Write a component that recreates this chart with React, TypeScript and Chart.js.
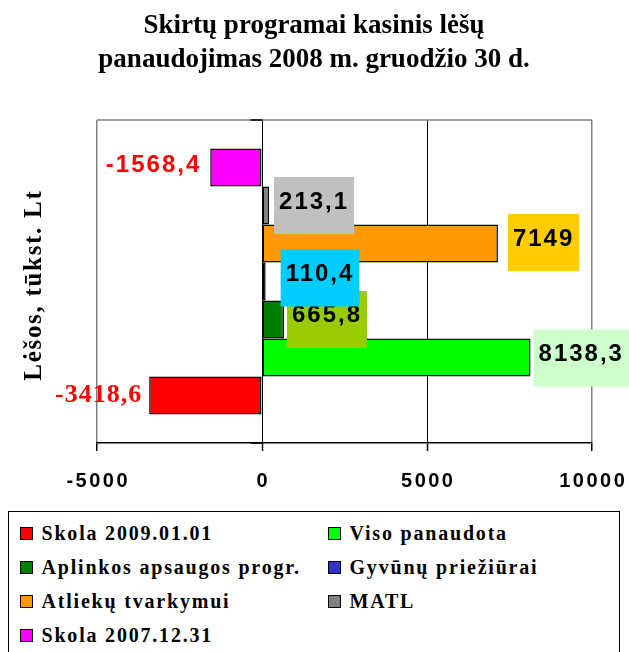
import React, { useEffect, useRef } from "react";
import { Chart, registerables } from "chart.js";

Chart.register(...registerables);

// ---- data ----
const titleLines = ["Skirtų programai kasinis lėšų", "panaudojimas 2008 m. gruodžio 30 d."];
const yAxisTitle = "Lėšos, tūkst. Lt";
const categories = [""];
const seriesNames = [
  "Skola 2009.01.01",
  "Viso panaudota",
  "Aplinkos apsaugos progr.",
  "Gyvūnų priežiūrai",
  "Atliekų tvarkymui",
  "MATL",
  "Skola 2007.12.31",
];
const seriesValues = [-3418.6, 8138.3, 665.8, 110.4, 7149, 213.1, -1568.4];
const seriesColors = ["#FF0000", "#00FF00", "#008000", "#3333CC", "#FF9900", "#808080", "#FF00FF"];
const xTickValues = [-5000, 0, 5000, 10000];

// ---- label styles (per series, same order) ----
const SANS24 = "bold 24px 'Liberation Sans', Arial, sans-serif";
const labelStyles = [
  { bg: null, color: "#FF0000", font: "bold 26px 'Liberation Serif', 'Times New Roman', serif", spacing: 1, dx: -8, dy: 4 },
  { bg: "#CCFFCC", color: "#000000", font: SANS24, spacing: 2, dx: 3, dy: 0.5 },
  { bg: "#99CC00", color: "#000000", font: SANS24, spacing: 2, dx: 3, dy: 0 },
  { bg: "#00CCFF", color: "#000000", font: SANS24, spacing: 2, dx: 15, dy: -3.5 },
  { bg: "#FFCC00", color: "#000000", font: SANS24, spacing: 2, dx: 10, dy: -1 },
  { bg: "#C0C0C0", color: "#000000", font: SANS24, spacing: 2, dx: 5, dy: 0 },
  { bg: null, color: "#FF0000", font: SANS24, spacing: 2, dx: -11, dy: 1 },
];

const fmt = (v: number) => String(v).replace(".", ",");

const decorPlugin = {
  id: "decor",
  beforeDatasetsDraw(chart: any) {
    const { ctx, chartArea } = chart;
    const x = chart.scales.x;
    ctx.save();
    // top plot border
    ctx.strokeStyle = "#808080";
    ctx.lineWidth = 1.5;
    ctx.beginPath();
    ctx.moveTo(chartArea.left, chartArea.top);
    ctx.lineTo(chartArea.right, chartArea.top);
    ctx.stroke();
    // small category-axis ticks at zero
    const x0 = Math.round(x.getPixelForValue(0)) + 0.5;
    ctx.strokeStyle = "#000";
    ctx.lineWidth = 1.5;
    ctx.beginPath();
    ctx.moveTo(x0 - 12, chartArea.top);
    ctx.lineTo(x0, chartArea.top);
    ctx.moveTo(x0 - 12, chartArea.bottom);
    ctx.lineTo(x0, chartArea.bottom);
    ctx.stroke();
    ctx.restore();
  },
  afterDatasetsDraw(chart: any) {
    const { ctx } = chart;
    const n = seriesValues.length;
    for (let i = 0; i < n; i++) {
      const dsIndex = n - 1 - i;
      const meta = chart.getDatasetMeta(dsIndex);
      const el = meta.data[0];
      if (!el) continue;
      const st = labelStyles[i];
      const v = seriesValues[i];
      const text = fmt(v);
      ctx.save();
      ctx.font = st.font;
      (ctx as any).letterSpacing = st.spacing + "px";
      const w = ctx.measureText(text).width;
      const cy = el.y + st.dy;
      ctx.textBaseline = "alphabetic";
      if (v >= 0) {
        const left = el.x + st.dx;
        if (st.bg) {
          ctx.fillStyle = st.bg;
          ctx.fillRect(left, cy - 28.5, w + 10, 57);
        }
        ctx.fillStyle = st.color;
        ctx.textAlign = "left";
        ctx.fillText(text, left + 5, cy + 3);
      } else {
        const right = el.x + st.dx; // el.x is left end for negative bar
        ctx.fillStyle = st.color;
        ctx.textAlign = "left";
        ctx.fillText(text, right - w + st.spacing, cy + 3);
      }
      ctx.restore();
    }
  },
  afterDraw(chart: any) {
    const { ctx, chartArea } = chart;
    const x = chart.scales.x;
    ctx.save();
    // title
    ctx.fillStyle = "#000";
    ctx.font = "bold 27px 'Liberation Serif', 'Times New Roman', serif";
    ctx.textAlign = "center";
    ctx.textBaseline = "alphabetic";
    ctx.fillText(titleLines[0], 314, 33);
    ctx.fillText(titleLines[1], 314, 67);
    // y axis title
    ctx.save();
    ctx.translate(41, 286);
    ctx.rotate(-Math.PI / 2);
    ctx.font = "bold 25px 'Liberation Serif', 'Times New Roman', serif";
    (ctx as any).letterSpacing = "1.7px";
    ctx.textAlign = "center";
    ctx.fillText(yAxisTitle, 0.85, 0);
    ctx.restore();
    // x tick labels
    ctx.font = "bold 20px 'Liberation Sans', Arial, sans-serif";
    (ctx as any).letterSpacing = "2.5px";
    ctx.textAlign = "center";
    for (const t of xTickValues) {
      const px = x.getPixelForValue(t);
      ctx.fillText(String(t), px + 1.25, chartArea.bottom + 44);
    }
    ctx.restore();
  },
};

function Legend() {
  const rowCenter0 = 533.5;
  const rowGap = 34;
  const originX = 9.5;
  const originY = 512.5;
  return (
    <div
      style={{
        position: "absolute",
        left: 8,
        top: 511,
        width: 612,
        height: 170,
        border: "1.5px solid #000",
        boxSizing: "border-box",
        background: "#fff",
      }}
    >
      {seriesNames.map((name, i) => {
        const col = i % 2;
        const row = Math.floor(i / 2);
        const cy = rowCenter0 + row * rowGap;
        return (
          <div
            key={name}
            style={{
              position: "absolute",
              left: (col ? 328 : 20) - originX,
              top: cy - originY - 12,
              height: 24,
              display: "flex",
              alignItems: "center",
              whiteSpace: "nowrap",
            }}
          >
            <span
              style={{
                display: "inline-block",
                width: 13,
                height: 13,
                boxSizing: "border-box",
                border: "1.5px solid #000",
                background: seriesColors[i],
                marginRight: 9,
              }}
            />
            <span
              style={{
                font: "bold 20px 'Liberation Serif', 'Times New Roman', serif",
                letterSpacing: "1.8px",
                lineHeight: "24px",
                color: "#000",
              }}
            >
              {name}
            </span>
          </div>
        );
      })}
    </div>
  );
}

export default function App() {
  const canvasRef = useRef<HTMLCanvasElement | null>(null);

  useEffect(() => {
    if (!canvasRef.current) return;
    const n = seriesValues.length;
    const datasets = [];
    for (let j = 0; j < n; j++) {
      const i = n - 1 - j; // top-to-bottom drawing order
      datasets.push({
        label: seriesNames[i],
        data: [seriesValues[i]],
        backgroundColor: seriesColors[i],
        borderColor: "#000000",
        borderWidth: 1.5,
        borderSkipped: false,
        categoryPercentage: 0.8235,
        barPercentage: 1,
      });
    }
    const chart = new Chart(canvasRef.current, {
      type: "bar",
      data: { labels: categories, datasets },
      options: {
        indexAxis: "y",
        animation: false,
        responsive: false,
        devicePixelRatio: 1,
        layout: { padding: { left: 97, right: 37, top: 120, bottom: 209 } },
        plugins: {
          legend: { display: false },
          title: { display: false },
          tooltip: { enabled: false },
        },
        scales: {
          x: {
            type: "linear",
            min: -5000,
            max: 10000,
            ticks: { stepSize: 5000, display: false },
            grid: {
              color: (c: any) =>
                c.tick && (c.tick.value === 0 || c.tick.value === 5000) ? "#000000" : "#808080",
              lineWidth: (c: any) =>
                c.tick && (c.tick.value === 0 || c.tick.value === 5000) ? 1 : 1.5,
              tickColor: "#000000",
              tickLength: 8,
              tickWidth: 1.5,
            },
            border: { display: true, color: "#000000", width: 1.5 },
            afterFit: (s: any) => {
              s.height = 0;
            },
          },
          y: { type: "category", display: false },
        },
      },
      plugins: [decorPlugin],
    } as any);
    return () => chart.destroy();
  }, []);

  return (
    <div
      style={{
        position: "fixed",
        left: 0,
        top: 0,
        width: 629,
        height: 652,
        overflow: "hidden",
        background: "#fff",
      }}
    >
      <canvas ref={canvasRef} width={629} height={652} style={{ position: "absolute", left: 0, top: 0 }} />
      <Legend />
    </div>
  );
}
